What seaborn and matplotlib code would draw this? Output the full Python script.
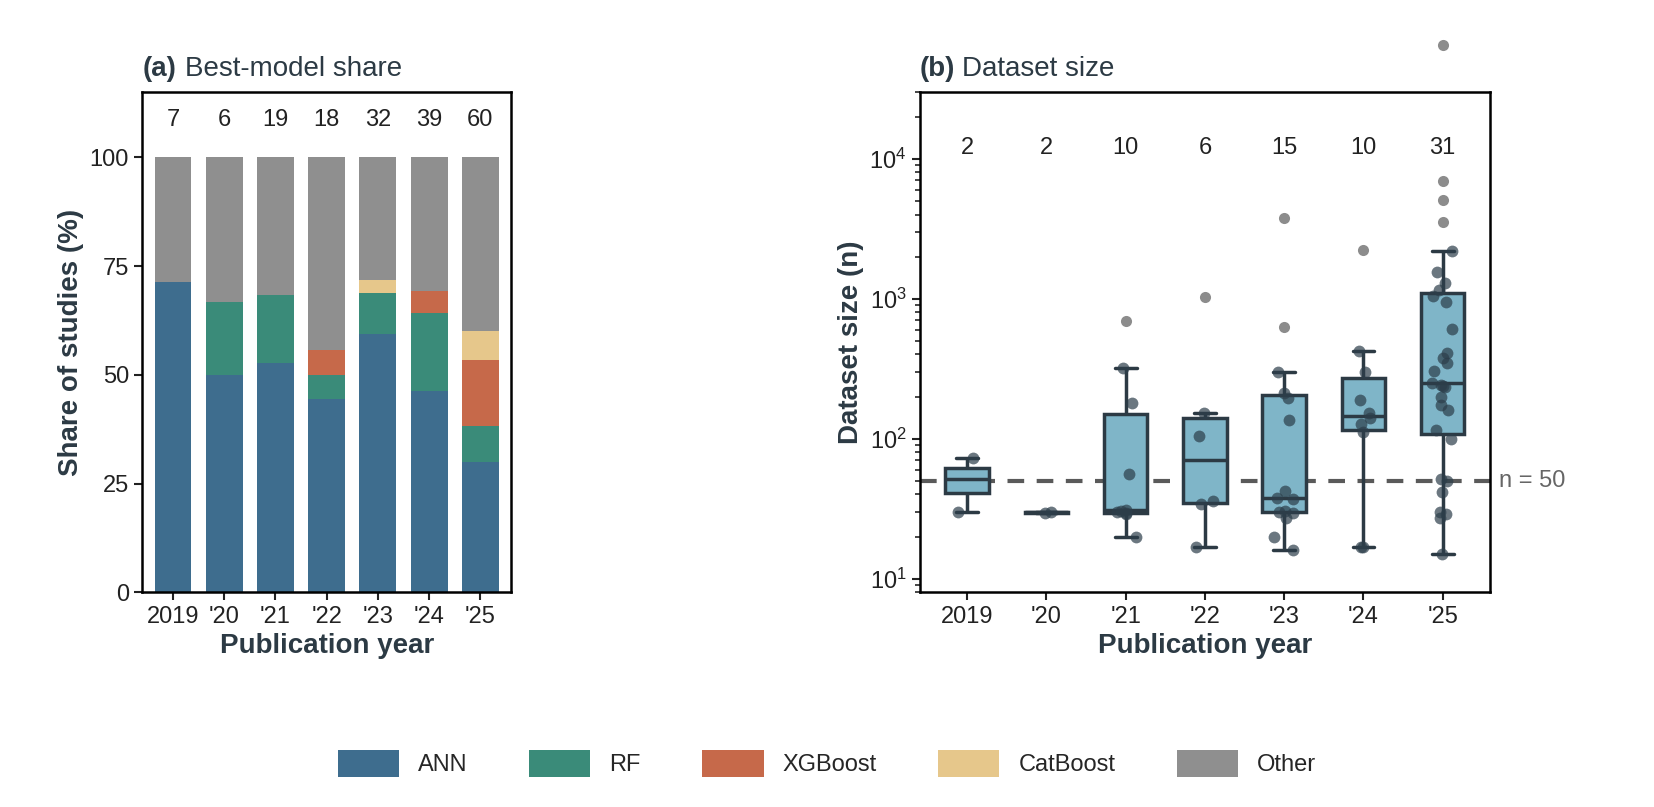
import numpy as np
import pandas as pd
import matplotlib
matplotlib.use("Agg")
import matplotlib.pyplot as plt
import seaborn as sns

np.random.seed(7)
sns.set_theme(style="ticks")
plt.rcParams['font.family'] = ['Liberation Sans', 'DejaVu Sans']

# ---- data ----
years = ["2019", "'20", "'21", "'22", "'23", "'24", "'25"]
models = ["ANN", "RF", "XGBoost", "CatBoost", "Other"]
n_studies = [7, 6, 19, 18, 32, 39, 60]
ann = [71.4, 50.0, 52.6, 44.4, 59.4, 46.2, 30.0]
rf = [0.0, 16.7, 15.8, 5.6, 9.4, 17.9, 8.3]
xgb = [0.0, 0.0, 0.0, 5.6, 0.0, 5.1, 15.0]
cat = [0.0, 0.0, 0.0, 0.0, 3.1, 0.0, 6.7]
other = [28.6, 33.3, 31.6, 44.4, 28.1, 30.8, 40.0]

size_2019 = [30, 73]
size_2020 = [29.5, 30]
size_2021 = [20, 29, 29.5, 30, 30.5, 31, 56, 181, 318, 697]
size_2022 = [17, 34, 36, 105, 152, 1037]
size_2023 = [16, 20, 27, 29.5, 30, 30.5, 37, 37.5, 42.5, 136, 196, 214, 298, 630, 3790]
size_2024 = [17, 17, 112, 127, 140, 152, 190, 298, 425, 2240]
size_2025 = [15, 27, 29, 30, 42, 50, 52, 100, 115, 161, 175, 200, 236, 240, 243,
             250, 303, 347, 380, 410, 607, 944, 1040, 1160, 1300, 1566, 2180,
             3560, 5040, 6890, 65000]
size_lists = [size_2019, size_2020, size_2021, size_2022, size_2023, size_2024, size_2025]

colors = {"ANN": "#3e6d8e", "RF": "#3a8b79", "XGBoost": "#c6694a",
          "CatBoost": "#e6c78b", "Other": "#8f8f8f"}
dark = "#2c3a44"

share = pd.DataFrame({"year": years, "ANN": ann, "RF": rf, "XGBoost": xgb,
                      "CatBoost": cat, "Other": other})
sizes = pd.DataFrame([(y, v) for y, vals in zip(years, size_lists) for v in vals],
                     columns=["year", "n"])

fig = plt.figure(figsize=(16.54, 8.07), dpi=100)
ax1 = fig.add_axes([0.086, 0.266, 0.223, 0.62])
ax2 = fig.add_axes([0.556, 0.266, 0.345, 0.62])

# ---- (a) stacked bars ----
bottom = np.zeros(len(years))
for m in models:
    sns.barplot(x=share["year"], y=share[m], bottom=bottom, color=colors[m],
                width=0.72, ax=ax1, label=m, linewidth=0, saturation=1)
    bottom += share[m].values
for i, n in enumerate(n_studies):
    ax1.text(i, 106, str(n), ha="center", va="bottom", fontsize=17, color="#222")
ax1.set_ylim(0, 115)
ax1.set_yticks([0, 25, 50, 75, 100])
ax1.set_ylabel("Share of studies (%)", fontsize=20, fontweight="bold", color=dark)
ax1.set_xlabel("Publication year", fontsize=20, fontweight="bold", color=dark)
ax1.text(0.0, 1.02, "(a)", transform=ax1.transAxes, fontsize=20, fontweight="bold",
         color=dark, va="bottom")
ax1.text(0.115, 1.02, "Best-model share", transform=ax1.transAxes, fontsize=20,
         color=dark, va="bottom")

# ---- (b) box + strip, log y (box stats in linear space) ----
sns.boxplot(data=sizes, x="year", y="n", order=years, ax=ax2, width=0.55,
            color="#7fb5c8", saturation=1, linewidth=2.5, linecolor=dark,
            flierprops=dict(marker="o", markerfacecolor="#8c8c8c",
                            markeredgecolor="none", markersize=8, clip_on=False))
inside = []
for y, vals in zip(years, size_lists):
    v = np.array(vals, dtype=float)
    q1, q3 = np.percentile(v, [25, 75])
    iqr = q3 - q1
    keep = v[(v >= q1 - 1.5 * iqr) & (v <= q3 + 1.5 * iqr)]
    inside += [(y, k) for k in keep]
inside = pd.DataFrame(inside, columns=["year", "n"])
sns.stripplot(data=inside, x="year", y="n", order=years, ax=ax2, jitter=0.13,
              color="#2c3e4a", alpha=0.7, size=8.5, linewidth=0)
ax2.set_yscale("log")
ax2.set_ylim(8, 3e4)
ax2.axhline(50, color="#5a5a5a", linestyle="--", linewidth=3, dashes=(4, 3), zorder=0)
ax2.text(1.015, 50, "n = 50", transform=ax2.get_yaxis_transform(), va="center",
         fontsize=17, color="#666")
for i, vals in enumerate(size_lists):
    ax2.text(i, 1.2e4, str(len(vals)), ha="center", va="center", fontsize=17, color="#222")
ax2.set_ylabel("Dataset size (n)", fontsize=20, fontweight="bold", color=dark)
ax2.set_xlabel("Publication year", fontsize=20, fontweight="bold", color=dark)
ax2.text(0.0, 1.02, "(b)", transform=ax2.transAxes, fontsize=20, fontweight="bold",
         color=dark, va="bottom")
ax2.text(0.075, 1.02, "Dataset size", transform=ax2.transAxes, fontsize=20,
         color=dark, va="bottom")

for ax in (ax1, ax2):
    ax.tick_params(labelsize=17, width=1.5, length=6, colors="#222")
    ax.tick_params(which="minor", width=1.2, length=3.5)
    for s in ax.spines.values():
        s.set_linewidth(1.8)
        s.set_color("black")
    ax.set_xlim(-0.6, 6.6)

handles, labels = ax1.get_legend_handles_labels()
if ax1.get_legend():
    ax1.get_legend().remove()
fig.legend(handles, labels, loc="center", bbox_to_anchor=(0.5, 0.054), ncol=5,
           frameon=False, fontsize=17, handlelength=2.6, handleheight=1.4,
           columnspacing=2.6)

fig.savefig("out.png", dpi=100)
